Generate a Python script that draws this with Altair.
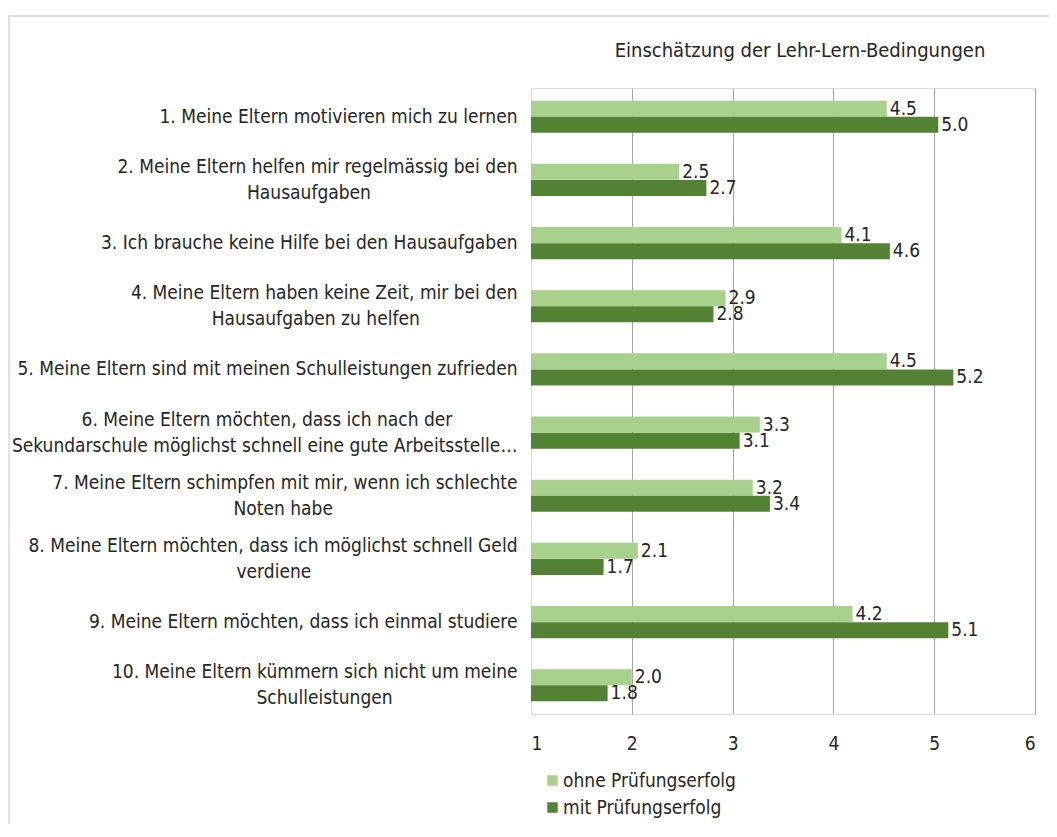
import altair as alt
import pandas as pd

categories = [
    "1. Meine Eltern motivieren mich zu lernen",
    "2. Meine Eltern helfen mir regelmässig bei den\nHausaufgaben",
    "3. Ich brauche keine Hilfe bei den Hausaufgaben",
    "4. Meine Eltern haben keine Zeit, mir bei den\nHausaufgaben zu helfen",
    "5. Meine Eltern sind mit meinen Schulleistungen zufrieden",
    "6. Meine Eltern möchten, dass ich nach der\nSekundarschule möglichst schnell eine gute Arbeitsstelle…",
    "7. Meine Eltern schimpfen mit mir, wenn ich schlechte\nNoten habe",
    "8. Meine Eltern möchten, dass ich möglichst schnell Geld\nverdiene",
    "9. Meine Eltern möchten, dass ich einmal studiere",
    "10. Meine Eltern kümmern sich nicht um meine\nSchulleistungen",
]
series = ["ohne Prüfungserfolg", "mit Prüfungserfolg"]
ohne = [4.53, 2.47, 4.08, 2.93, 4.53, 3.27, 3.20, 2.06, 4.19, 2.00]
mit = [5.04, 2.74, 4.56, 2.81, 5.19, 3.07, 3.37, 1.72, 5.14, 1.76]
colors = ["#A9D18E", "#548235"]
title_text = "Einschätzung der Lehr-Lern-Bedingungen"

rows = []
for c, a, b in zip(categories, ohne, mit):
    rows.append({"cat": c, "serie": series[0], "wert": a})
    rows.append({"cat": c, "serie": series[1], "wert": b})
df = pd.DataFrame(rows)

FONT = "Liberation Sans Narrow, DejaVu Sans Condensed, sans-serif"
TXT = "#262626"

# two-line labels: centre the shorter line under/over the longer one
A = "split(datum.label, '\\n')[0]"
B = "split(datum.label, '\\n')[1]"


def padded(x, y):
    return (
        f"pad({x}, length({x}) + round((length({y}) - length({x})) * 0.8), '\\u00a0', 'right') + '\\u200b'"
    )


line1 = f"(length({A}) >= length({B}) ? {A} : {padded(A, B)})"
line2 = f"(length({B}) >= length({A}) ? {B} : {padded(B, A)})"
label_expr = f"indexof(datum.label, '\\n') >= 0 ? [{line1}, {line2}] : datum.label"

y_enc = alt.Y(
    "cat:N",
    sort=categories,
    scale=alt.Scale(paddingInner=0.49, paddingOuter=0.2),
    axis=alt.Axis(
        title=None,
        ticks=False,
        domain=True,
        domainColor="#d9d9d9",
        labelPadding=14,
        labelFontSize=19,
        labelFont=FONT,
        labelColor=TXT,
        labelLimit=600,
        labelLineHeight=26,
        labelBaseline={
            "condition": {"test": "indexof(datum.value, '\\n') >= 0", "value": "line-bottom"},
            "value": "middle",
        },
        labelExpr=label_expr,
        grid=False,
    ),
)
yoff = alt.YOffset("serie:N", sort=series, scale=alt.Scale(paddingInner=0))
x_scale = alt.Scale(domain=[1, 6], nice=False, zero=False)

bars = alt.Chart(df).mark_bar(size=16).encode(
    x=alt.X(
        "wert:Q",
        scale=x_scale,
        axis=alt.Axis(
            title=None,
            values=[1, 2, 3, 4, 5, 6],
            format="d",
            ticks=False,
            domain=False,
            grid=True,
            gridColor={"condition": {"test": "datum.value == 1", "value": "#d9d9d9"}, "value": "#a6a6a6"},
            gridWidth=1,
            labelPadding=20,
            labelFontSize=19,
            labelFont=FONT,
            labelColor=TXT,
        ),
    ),
    x2=alt.datum(1),
    y=y_enc,
    yOffset=yoff,
    color=alt.Color(
        "serie:N",
        sort=series,
        scale=alt.Scale(domain=series, range=colors),
        legend=alt.Legend(
            title=None,
            orient="none",
            legendX=12,
            legendY=683,
            direction="vertical",
            symbolType="square",
            symbolSize=110,
            symbolStrokeWidth=0,
            labelFontSize=19,
            labelFont=FONT,
            labelColor=TXT,
            labelLimit=400,
            labelOffset=1,
            rowPadding=7,
            padding=0,
        ),
    ),
)

labels = alt.Chart(df).mark_text(
    align="left", baseline="middle", dx=3, fontSize=19, font=FONT, color=TXT
).encode(
    x=alt.X("wert:Q", scale=x_scale),
    y=alt.Y("cat:N", sort=categories),
    yOffset=alt.YOffset("serie:N", sort=series),
    text=alt.Text("wert:Q", format=".1f"),
)

frame = alt.Chart(pd.DataFrame({"k": [0]})).mark_rect(
    fill=None, stroke="#d9d9d9", strokeWidth=1.5
).encode(
    x=alt.value(-522), x2=alt.value(640), y=alt.value(-72), y2=alt.value(800)
)

chart = (
    alt.layer(frame, bars, labels)
    .properties(
        width=504,
        height=626,
        autosize=alt.AutoSizeParams(type="none"),
        padding={"left": 523, "top": 80, "right": 14, "bottom": 110},
        title=alt.TitleParams(
            title_text,
            anchor="middle",
            frame="group",
            dx=17,
            dy=46,
            offset=0,
            fontSize=20,
            font=FONT,
            fontWeight="normal",
            color=TXT,
        ),
    )
    .configure_view(stroke=None)
    .configure(background="white")
)

chart.save("out.html", embed_options={"renderer": "svg", "actions": False})
